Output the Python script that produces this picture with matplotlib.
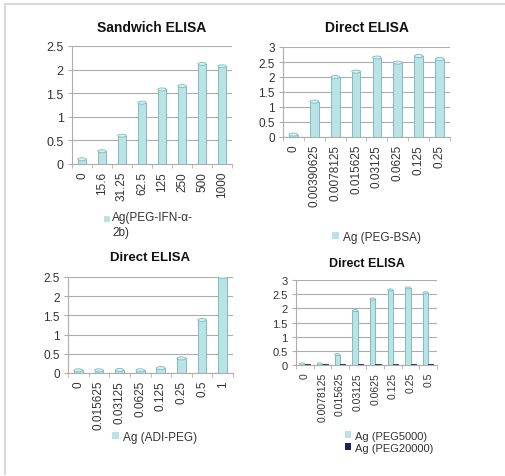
import matplotlib
matplotlib.use('Agg')
import matplotlib.pyplot as plt
import numpy as np
from matplotlib.lines import Line2D
from matplotlib.patches import Ellipse, Rectangle

plt.rcParams['font.family'] = ['Liberation Sans', 'DejaVu Sans']

# ---- data ----
sand_cats = ['0', '15.6', '31.25', '62.5', '125', '250', '500', '1000']
sand_vals = [0.1, 0.27, 0.6, 1.3, 1.58, 1.65, 2.12, 2.07]

bsa_cats = ['0', '0.00390625', '0.0078125', '0.015625', '0.03125', '0.0625', '0.125', '0.25']
bsa_vals = [0.08, 1.18, 2.0, 2.18, 2.65, 2.48, 2.7, 2.6]

adi_cats = ['0', '0.015625', '0.03125', '0.0625', '0.125', '0.25', '0.5', '1']
adi_vals = [0.07, 0.07, 0.08, 0.07, 0.13, 0.38, 1.38, 2.5]

peg_cats = ['0', '0.0078125', '0.015625', '0.03125', '0.0625', '0.125', '0.25', '0.5']
peg5000 = [0.04, 0.04, 0.37, 1.92, 2.33, 2.65, 2.72, 2.55]
peg20000 = [0.03, 0.03, 0.03, 0.03, 0.03, 0.03, 0.03, 0.03]

W, H = 506, 477
CYAN = '#b9e3e5'
CYAN_TOP = '#d6f0f1'
CYAN_EDGE = '#7fbcbf'
NAVY = '#1e2166'
GRID = '#adadad'
TXT = '#333333'

fig = plt.figure(figsize=(W / 100, H / 100), dpi=100)

# light frame round the picture
fig.add_artist(Line2D([5 / W, 1], [1 - 5 / H, 1 - 5 / H], color='#d9d9d9', lw=1.5))
fig.add_artist(Line2D([5 / W, 5 / W], [1 - 5 / H, 1 - 475 / H], color='#d9d9d9', lw=1.5))


def make_ax(left, right, top, bottom):
    return fig.add_axes([left / W, 1 - bottom / H, (right - left) / W, (bottom - top) / H])


def cyl(ax, xs, vals, width, color, edge, top, ymax, h_px):
    ax.bar(xs, vals, width=width, color=color, edgecolor=edge, lw=0.7)
    # elliptic caps for the cylinder look
    bb = ax.get_position()
    dy = ymax * h_px / (bb.height * H)
    for xi, v in zip(xs, vals):
        ax.add_patch(Ellipse((xi, v), width, dy, facecolor=top, edgecolor=edge, lw=0.6, zorder=3))


def style(ax, cats, ymax, step, title, title_y, tsize, xsize, ysize):
    ax.set_xlim(-0.5, len(cats) - 0.5)
    ax.set_ylim(0, ymax)
    ticks = np.arange(0, ymax + 0.001, step)
    ax.set_yticks(ticks)
    ax.set_yticklabels(['%g' % t for t in ticks])
    ax.set_xticks(range(len(cats)))
    ax.set_xticklabels(cats, rotation=90)
    ax.set_xticks(np.arange(-0.5, len(cats)), minor=True)
    ax.tick_params(axis='x', which='major', length=0, pad=5, labelsize=xsize, labelcolor=TXT)
    ax.tick_params(axis='x', which='minor', length=3, color=GRID)
    ax.tick_params(axis='y', length=3, color=GRID, labelsize=ysize, labelcolor=TXT, pad=3)
    for s in ('top', 'right'):
        ax.spines[s].set_visible(False)
    for s in ('left', 'bottom'):
        ax.spines[s].set_color(GRID)
        ax.spines[s].set_linewidth(0.8)
    ax.yaxis.grid(True, color=GRID, lw=0.8)
    ax.set_axisbelow(True)
    bb = ax.get_position()
    fig.text(bb.x0 + bb.width / 2, 1 - title_y / H, title,
             ha='center', va='center', fontsize=tsize, fontweight='bold', color='#111111')


def legend(ax, x, y, size):
    ax.legend(loc='upper left', bbox_to_anchor=(x / W, 1 - y / H), bbox_transform=fig.transFigure,
              frameon=False, fontsize=size, handlelength=0.6, handleheight=0.6, handletextpad=0.3,
              labelspacing=0.2, borderpad=0, labelcolor=TXT)


# Sandwich ELISA
ax1 = make_ax(72, 232, 47, 165)
x = np.arange(len(sand_cats))
style(ax1, sand_cats, 2.5, 0.5, 'Sandwich ELISA', 28, 10, 8.5, 9)
cyl(ax1, x, sand_vals, 0.42, CYAN, CYAN_EDGE, CYAN_TOP, 2.5, 3)
# two-line legend entry, square level with the first line
fig.add_artist(Rectangle((104 / W, 1 - 223 / H), 6 / W, 6 / H, transform=fig.transFigure,
                         facecolor=CYAN, edgecolor='none'))
fig.text(112 / W, 1 - 212 / H, 'Ag(PEG-IFN-\u03b1-\n2b)', fontsize=8.5, color=TXT,
         va='top', ha='left', linespacing=1.3)

# Direct ELISA, PEG-BSA
ax2 = make_ax(283, 450, 48, 138)
x = np.arange(len(bsa_cats))
style(ax2, bsa_cats, 3, 0.5, 'Direct ELISA', 28, 10, 8.5, 8.5)
cyl(ax2, x, bsa_vals, 0.42, CYAN, CYAN_EDGE, CYAN_TOP, 3, 3)
ax2.bar([0], [0], color=CYAN, label='Ag (PEG-BSA)')
legend(ax2, 326, 226, 8.5)

# Direct ELISA, ADI-PEG
ax3 = make_ax(68, 233, 278, 374)
x = np.arange(len(adi_cats))
style(ax3, adi_cats, 2.5, 0.5, 'Direct ELISA', 258, 9.5, 8.5, 8.5)
cyl(ax3, x, adi_vals, 0.42, CYAN, CYAN_EDGE, CYAN_TOP, 2.5, 3)
ax3.bar([0], [0], color=CYAN, label='Ag (ADI-PEG)')
legend(ax3, 106, 426, 8.5)

# Direct ELISA, PEG5000 / PEG20000
ax4 = make_ax(296, 437, 281, 366)
x = np.arange(len(peg_cats))
style(ax4, peg_cats, 3, 0.5, 'Direct ELISA', 264, 9, 7.5, 8)
cyl(ax4, x - 0.15, peg5000, 0.3, CYAN, CYAN_EDGE, CYAN_TOP, 3, 2)
ax4.bar(x + 0.15, peg20000, width=0.3, color=NAVY, edgecolor=NAVY, lw=0.6)
ax4.bar([0], [0], color=CYAN, label='Ag (PEG5000)')
ax4.bar([0], [0], color=NAVY, label='Ag (PEG20000)')
legend(ax4, 339, 426, 8)

fig.savefig('out.png', dpi=100)
